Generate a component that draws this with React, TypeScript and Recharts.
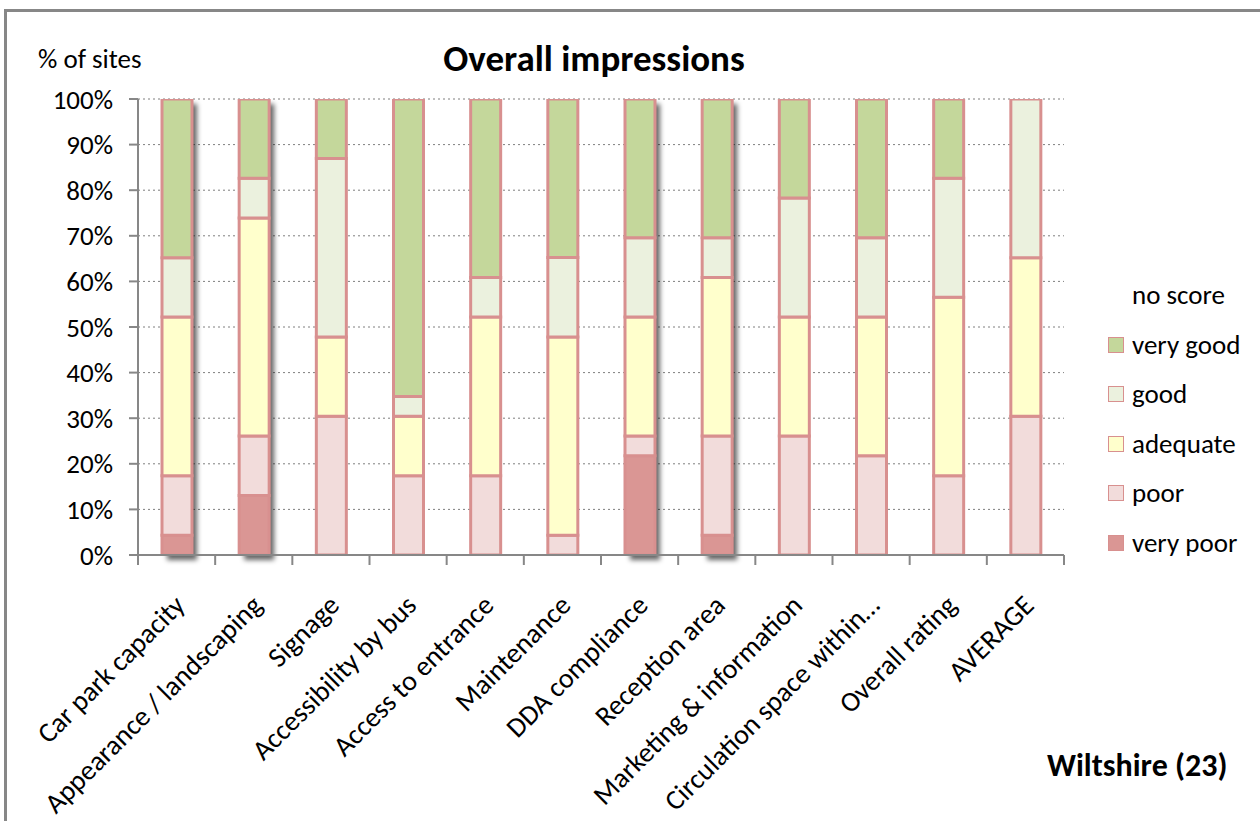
import { BarChart, Bar, XAxis, YAxis, CartesianGrid } from "recharts";

// Share of sites (%) per rating, 23 sites in total
const categories = [
  "Car park capacity",
  "Appearance / landscaping",
  "Signage",
  "Accessibility by bus",
  "Access to entrance",
  "Maintenance",
  "DDA compliance",
  "Reception area",
  "Marketing & information",
  "Circulation space within…",
  "Overall rating",
  "AVERAGE",
];
const veryPoor = [4.35, 13.04, 0, 0, 0, 0, 21.74, 4.35, 0, 0, 0, 0];
const poor = [13.04, 13.04, 30.43, 17.39, 17.39, 4.35, 4.35, 21.74, 26.09, 21.74, 17.39, 30.43];
const adequate = [34.78, 47.83, 17.39, 13.04, 34.78, 43.48, 26.09, 34.78, 26.09, 30.43, 39.13, 34.78];
const good = [13.04, 8.7, 39.13, 4.35, 8.7, 17.39, 17.39, 8.7, 26.09, 17.39, 26.09, 34.78];
const veryGood = [34.78, 17.39, 13.04, 65.22, 39.13, 34.78, 30.43, 30.43, 21.74, 30.43, 17.39, 0];
const noScore = [0, 0, 0, 0, 0, 0, 0, 0, 0, 0, 0, 0];
const yTicks = [0, 10, 20, 30, 40, 50, 60, 70, 80, 90, 100];

const FONT = "Carlito, Calibri, Lato, sans-serif";
const EDGE = "#D8908F";
const AXIS = "#878787";

const series = [
  { key: "veryPoor", name: "very poor", values: veryPoor, fill: "#DA9694" },
  { key: "poor", name: "poor", values: poor, fill: "#F2DCDB" },
  { key: "adequate", name: "adequate", values: adequate, fill: "#FFFFCC" },
  { key: "good", name: "good", values: good, fill: "#EBF1DE" },
  { key: "veryGood", name: "very good", values: veryGood, fill: "#C4D79B" },
  { key: "noScore", name: "no score", values: noScore, fill: "none" },
];

const chartData = categories.map((name, i) => {
  const row: Record<string, string | number> = { name };
  series.forEach((s) => {
    row[s.key] = s.values[i];
  });
  return row;
});

const W = 1260;
const H = 821;
const MARGIN = { top: 99, right: 196, bottom: 0, left: 0 };
const Y_AXIS_W = 138;
const X_AXIS_H = 266;
const HALF_BAND = (W - MARGIN.left - MARGIN.right - Y_AXIS_W) / categories.length / 2;

// category labels at 45°, with Excel-style tick marks between categories
const CategoryTick = (props: any) => {
  const { x, y, payload, index } = props;
  return (
    <g>
      <line x1={x - HALF_BAND} x2={x - HALF_BAND} y1={y} y2={y + 10} stroke={AXIS} strokeWidth={2} />
      {index === categories.length - 1 && (
        <line x1={x + HALF_BAND} x2={x + HALF_BAND} y1={y} y2={y + 10} stroke={AXIS} strokeWidth={2} />
      )}
      <text
        transform={`translate(${x + 10},${y + 52}) rotate(-45)`}
        textAnchor="end"
        fontFamily={FONT}
        fontSize={28}
        fill="#000"
      >
        {payload.value}
      </text>
    </g>
  );
};

// grey shadow behind each full column
const ColumnShadow = (props: any) => (
  <rect
    x={props.x + 5}
    y={props.y + 5}
    width={props.width}
    height={props.height}
    fill="#000"
    fillOpacity={0.6}
    filter="url(#columnBlur)"
  />
);

const legendRows = [...series].reverse();

export default function App() {
  return (
    <div style={{ position: "fixed", left: 0, top: 0, width: W, height: H, background: "#fff", overflow: "hidden", fontFamily: FONT }}>
      <svg width={0} height={0} style={{ position: "absolute" }}>
        <defs>
          <filter id="columnBlur" x="-50%" y="-10%" width="200%" height="120%">
            <feGaussianBlur stdDeviation={2.5} />
          </filter>
        </defs>
      </svg>

      <div
        style={{
          position: "absolute",
          left: 4,
          top: 9,
          width: W,
          height: H,
          borderLeft: `3px solid ${AXIS}`,
          borderTop: `3px solid ${AXIS}`,
          boxSizing: "border-box",
        }}
      />

      <div style={{ position: "absolute", left: 0, top: 0 }}>
        <BarChart width={W} height={H} data={chartData} margin={MARGIN} barSize={30}>
          <CartesianGrid vertical={false} stroke="#7f7f7f" strokeDasharray="2 3" />
          <XAxis
            dataKey="name"
            height={X_AXIS_H}
            interval={0}
            tickLine={false}
            tickSize={0}
            tickMargin={0}
            axisLine={{ stroke: AXIS, strokeWidth: 2 }}
            tick={(p: any) => <CategoryTick {...p} />}
          />
          <YAxis
            width={Y_AXIS_W}
            domain={[0, 100]}
            ticks={yTicks}
            allowDataOverflow
            tickFormatter={(v: number) => `${v}%`}
            tickSize={9}
            tickMargin={16}
            axisLine={{ stroke: AXIS, strokeWidth: 2 }}
            tickLine={{ stroke: AXIS, strokeWidth: 2 }}
            tick={{ fill: "#000", fontSize: 27, fontFamily: FONT }}
          />
          {series.map((s, i) => (
            <Bar
              key={s.key}
              dataKey={s.key}
              name={s.name}
              stackId="rating"
              fill={s.fill}
              stroke={EDGE}
              strokeWidth={3}
              isAnimationActive={false}
              background={i === 0 ? (p: any) => <ColumnShadow {...p} /> : undefined}
            />
          ))}
        </BarChart>
      </div>

      <div style={{ position: "absolute", left: 38, top: 42, fontSize: 27, lineHeight: "34px", color: "#000" }}>
        % of sites
      </div>
      <div
        style={{
          position: "absolute",
          left: 394,
          width: 400,
          top: 37,
          textAlign: "center",
          fontSize: 37,
          fontWeight: "bold",
          lineHeight: "44px",
          color: "#000",
        }}
      >
        Overall impressions
      </div>

      {legendRows.map((s, i) => (
        <div
          key={s.key}
          style={{ position: "absolute", left: 1108, top: 278 + i * 49.5, height: 34, display: "flex", alignItems: "center" }}
        >
          <div
            style={{
              width: 16,
              height: 16,
              boxSizing: "border-box",
              background: s.fill === "none" ? "transparent" : s.fill,
              border: s.fill === "none" ? "none" : `1.5px solid ${EDGE}`,
              marginRight: 8,
            }}
          />
          <span style={{ fontSize: 27, lineHeight: "34px", color: "#000" }}>{s.name}</span>
        </div>
      ))}

      <div style={{ position: "absolute", left: 1047, top: 746, fontSize: 32, fontWeight: "bold", lineHeight: "40px", color: "#000" }}>
        Wiltshire (23)
      </div>
    </div>
  );
}
